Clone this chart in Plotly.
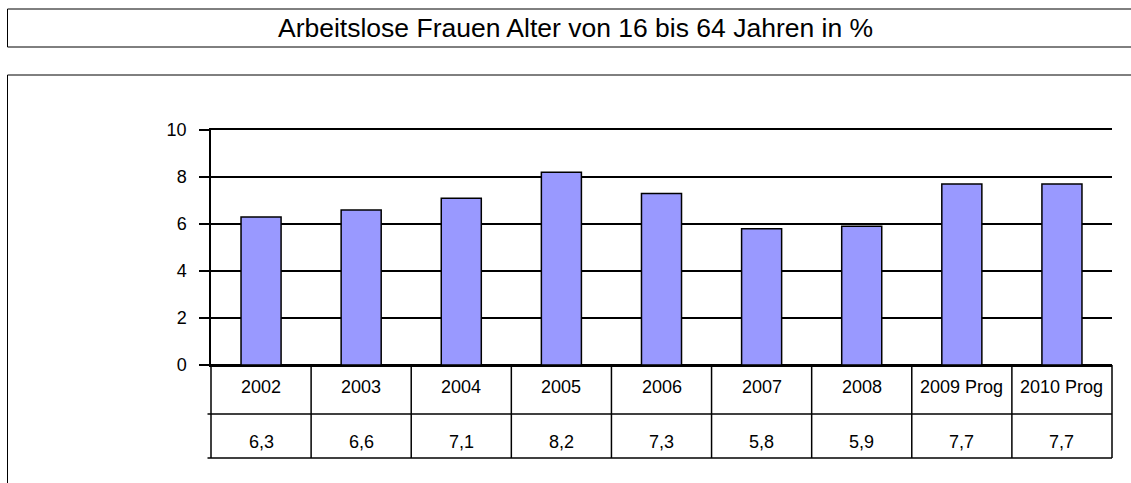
import plotly.graph_objects as go

categories = ["2002", "2003", "2004", "2005", "2006", "2007", "2008", "2009 Prog", "2010 Prog"]
values = [6.3, 6.6, 7.1, 8.2, 7.3, 5.8, 5.9, 7.7, 7.7]
value_labels = ["6,3", "6,6", "7,1", "8,2", "7,3", "5,8", "5,9", "7,7", "7,7"]
y_ticks = [0, 2, 4, 6, 8, 10]
title_text = "Arbeitslose Frauen Alter von 16 bis 64 Jahren in %"

W, H = 1131, 483
L, R, T, B = 211, 1112, 130, 365
PW, PH = R - L, B - T
FONT = "Liberation Sans, Arial, sans-serif"


def xp(px):
    return (px - L) / PW


def yp(py):
    return (B - py) / PH


n = len(categories)

fig = go.Figure()
fig.add_trace(go.Bar(
    x=categories, y=values,
    marker=dict(color="#9999FF", line=dict(color="black", width=1.5)),
    width=0.4,
    hoverinfo="skip",
))

shapes = []
annotations = []

# Title box and chart box
shapes.append(dict(type="rect", xref="paper", yref="paper",
                   x0=xp(7.5), x1=xp(1145), y0=yp(9), y1=yp(47),
                   line=dict(color="black", width=1), fillcolor="rgba(0,0,0,0)"))
shapes.append(dict(type="rect", xref="paper", yref="paper",
                   x0=xp(7.5), x1=xp(1145), y0=yp(75), y1=yp(500),
                   line=dict(color="black", width=1), fillcolor="rgba(0,0,0,0)"))
annotations.append(dict(text=title_text, xref="paper", yref="paper",
                        x=xp(575), y=yp(28), xanchor="center", yanchor="middle",
                        showarrow=False, font=dict(family=FONT, size=26.5, color="black")))

# Data table below the axis
row1_bottom, row2_bottom = 414, 458
for yy in (row1_bottom, row2_bottom):
    shapes.append(dict(type="line", xref="paper", yref="paper",
                       x0=xp(207.5), x1=1, y0=yp(yy), y1=yp(yy),
                       line=dict(color="black", width=1.5)))
for k in range(n + 1):
    shapes.append(dict(type="line", xref="paper", yref="paper",
                       x0=k / n, x1=k / n, y0=0, y1=yp(row2_bottom),
                       line=dict(color="black", width=1.5)))
for i, (c, v) in enumerate(zip(categories, value_labels)):
    xc = (i + 0.5) / n
    annotations.append(dict(text=c, xref="paper", yref="paper", x=xc, y=yp(387),
                            xanchor="center", yanchor="middle", showarrow=False,
                            font=dict(family=FONT, size=18, color="black")))
    annotations.append(dict(text=v, xref="paper", yref="paper", x=xc, y=yp(442),
                            xanchor="center", yanchor="middle", showarrow=False,
                            font=dict(family=FONT, size=18, color="black")))

fig.update_layout(
    width=W, height=H,
    margin=dict(l=L, r=W - R, t=T, b=H - B, pad=0),
    paper_bgcolor="white", plot_bgcolor="white",
    showlegend=False,
    shapes=shapes, annotations=annotations,
    xaxis=dict(type="category", range=[-0.5, n - 0.5], showticklabels=False,
               showgrid=False, zeroline=False, showline=True, mirror=True,
               linecolor="black", linewidth=1.5, ticks="", fixedrange=True),
    yaxis=dict(range=[0, 10], tickvals=y_ticks, ticktext=[str(t) for t in y_ticks],
               showgrid=True, gridcolor="black", gridwidth=1.5,
               zeroline=True, zerolinecolor="black", zerolinewidth=1.5,
               showline=True, linecolor="black", linewidth=1.5,
               ticks="outside", ticklen=10, tickwidth=1.5, tickcolor="black",
               ticklabelstandoff=9,
               tickfont=dict(family=FONT, size=18, color="black"), fixedrange=True),
)

fig.write_html("out.html", config={"displayModeBar": False},
               post_script="document.body.style.margin='0';document.body.style.overflow='hidden';")
